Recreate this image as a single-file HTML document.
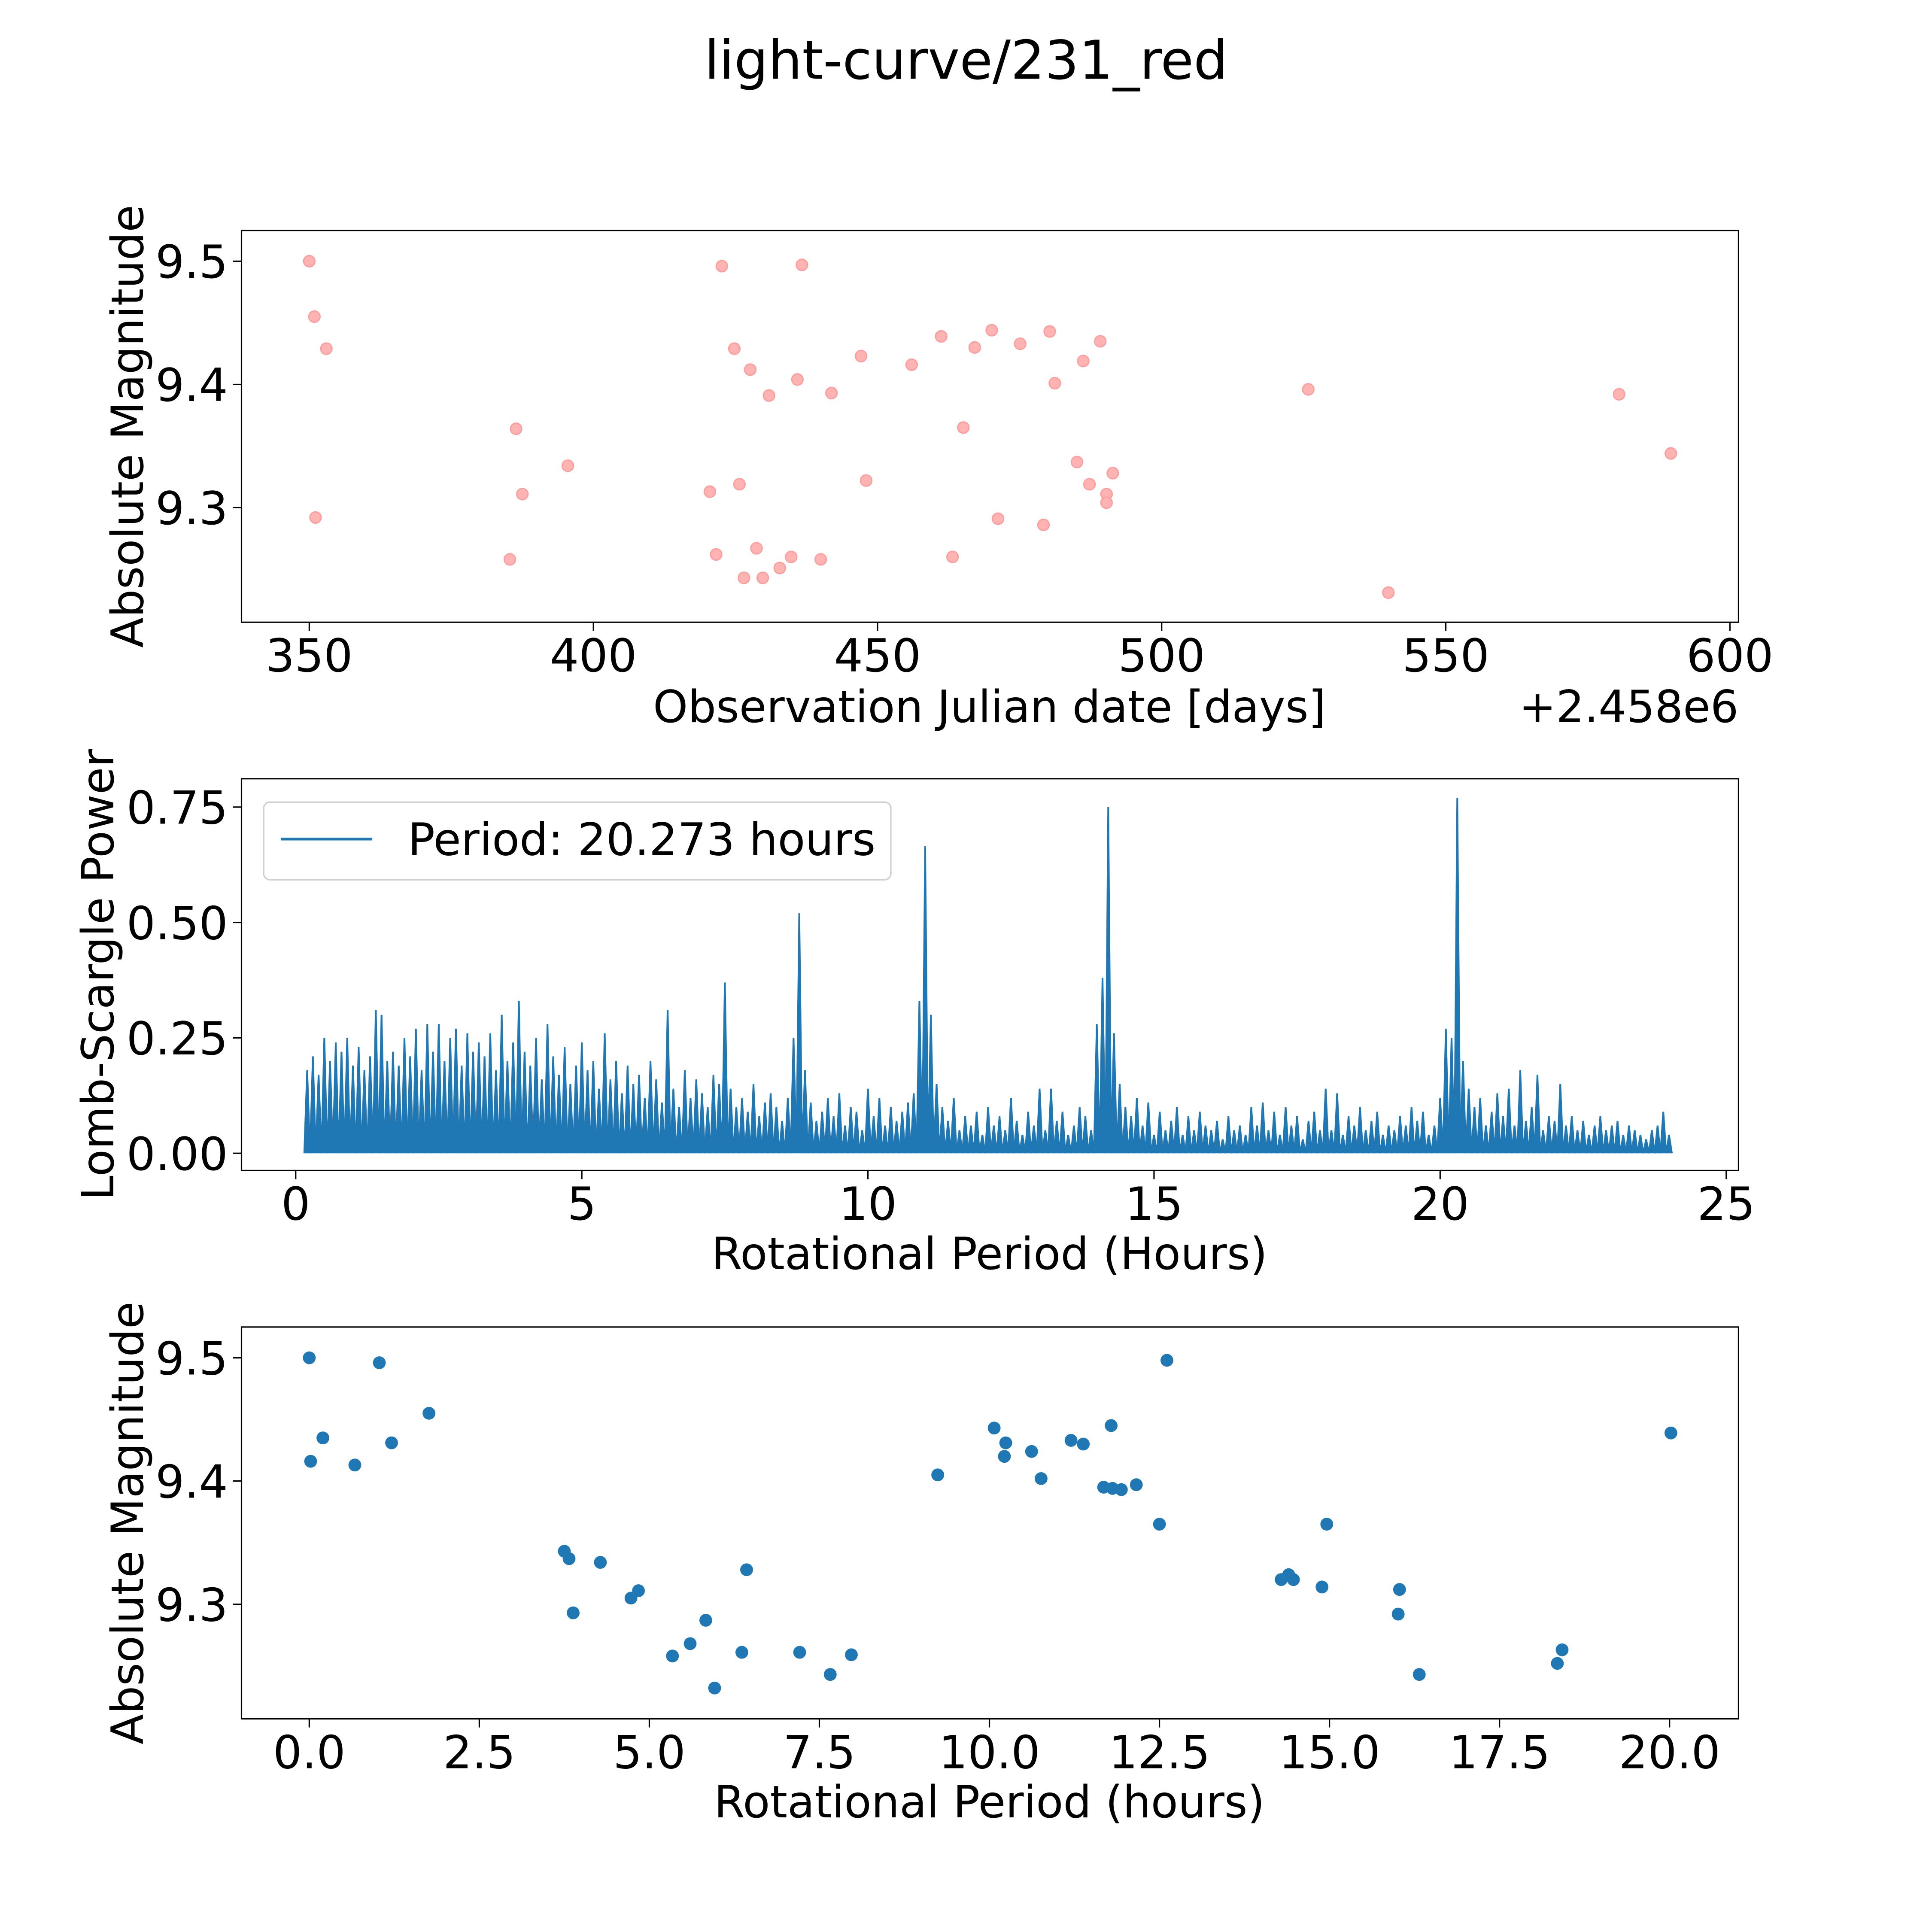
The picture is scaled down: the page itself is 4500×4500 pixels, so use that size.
<!DOCTYPE html>
<html><head><meta charset="utf-8"><style>
html,body{margin:0;padding:0;background:#fff;}
svg{display:block;font-family:"DejaVu Sans","Liberation Sans",sans-serif;}
</style></head><body>
<svg id="fig" width="4500" height="4500" viewBox="0 0 1568 1568" xmlns="http://www.w3.org/2000/svg">
<rect width="1568" height="1568" fill="#fff"/>
<text x="784" y="64" font-size="43.5" text-anchor="middle">light-curve/231_red</text>
<g id="p1"></g>
<g id="p2"></g>
<g id="p3"></g>
</svg>
<script>
// Panel 1 data
const obsDates=[350.0,350.9,353.0,351.1,385.3,386.4,387.5,395.5,420.5,421.6,422.6,424.8,425.7,426.5,427.6,428.7,429.8,430.9,432.8,434.8,435.9,436.7,440.0,441.9,447.1,448.0,456.0,461.2,463.2,465.1,467.1,470.1,471.2,475.1,479.2,480.3,481.2,485.1,486.2,487.3,489.2,490.3,490.3,491.4,525.8,539.9,580.5,589.6];
const obsMags=[9.500,9.455,9.429,9.292,9.258,9.364,9.311,9.334,9.313,9.262,9.496,9.429,9.319,9.243,9.412,9.267,9.243,9.391,9.251,9.260,9.404,9.497,9.258,9.393,9.423,9.322,9.416,9.439,9.260,9.365,9.430,9.444,9.291,9.433,9.286,9.443,9.401,9.337,9.419,9.319,9.435,9.311,9.304,9.328,9.396,9.231,9.392,9.344];
const p1XTicks=[350,400,450,500,550,600];
const p1YTicks=[9.3,9.4,9.5];
// Panel 2 data (periodogram sampled every 0.1 h from 0.2 h)
const lsStart=0.2, lsStep=0.1;
const lsPower=[0.18,0.21,0.17,0.25,0.20,0.24,0.22,0.25,0.19,
0.23,0.18,0.21,0.31,0.30,0.20,0.22,0.19,0.25,0.21,
0.27,0.18,0.28,0.22,0.28,0.20,0.25,0.27,0.19,0.26,
0.22,0.24,0.21,0.26,0.18,0.30,0.20,0.24,0.33,0.22,
0.19,0.25,0.16,0.28,0.21,0.17,0.23,0.15,0.19,0.24,
0.18,0.20,0.14,0.26,0.16,0.20,0.13,0.19,0.15,0.17,
0.12,0.20,0.16,0.11,0.31,0.14,0.10,0.18,0.12,0.16,
0.13,0.10,0.17,0.15,0.37,0.14,0.10,0.12,0.09,0.15,
0.08,0.11,0.13,0.10,0.07,0.12,0.25,0.52,0.18,0.11,
0.07,0.09,0.12,0.08,0.13,0.06,0.10,0.09,0.05,0.14,
0.08,0.12,0.06,0.10,0.07,0.09,0.11,0.13,0.33,0.665,
0.30,0.15,0.10,0.07,0.12,0.05,0.08,0.06,0.09,0.04,
0.10,0.06,0.08,0.05,0.12,0.07,0.04,0.09,0.06,0.14,
0.05,0.14,0.07,0.09,0.04,0.06,0.10,0.08,0.05,0.28,
0.38,0.75,0.26,0.15,0.10,0.08,0.12,0.06,0.11,0.04,
0.09,0.05,0.07,0.10,0.04,0.08,0.05,0.09,0.06,0.05,
0.07,0.03,0.08,0.05,0.06,0.04,0.10,0.06,0.11,0.05,
0.09,0.04,0.10,0.06,0.08,0.03,0.07,0.09,0.05,0.14,
0.05,0.13,0.04,0.08,0.06,0.10,0.05,0.07,0.09,0.04,
0.06,0.05,0.08,0.06,0.10,0.07,0.09,0.04,0.06,0.12,
0.27,0.25,0.77,0.20,0.14,0.10,0.12,0.06,0.09,0.13,
0.08,0.14,0.06,0.18,0.07,0.10,0.17,0.05,0.08,0.07,
0.15,0.06,0.08,0.05,0.07,0.04,0.06,0.08,0.05,0.06,
0.07,0.04,0.06,0.05,0.04,0.03,0.05,0.06,0.09,0.04];
const p2XTicks=[0,5,10,15,20,25];
const p2YTicks=[0,0.25,0.5,0.75];
const p2YLabels=["0.00","0.25","0.50","0.75"];
// Panel 3 data
const phasePeriods=[0.00,0.02,0.20,0.67,1.03,1.21,1.76,3.75,3.82,3.88,4.28,4.73,4.84,5.34,5.60,5.83,5.96,6.36,6.43,7.21,7.66,7.97,9.24,10.07,10.24,10.22,10.62,10.76,11.20,11.38,11.68,11.79,11.81,11.94,12.16,12.50,12.61,14.29,14.40,14.47,14.89,14.96,16.03,16.01,16.32,18.35,18.42,20.02];
const phaseMags=[9.500,9.416,9.435,9.413,9.496,9.431,9.455,9.343,9.337,9.293,9.334,9.305,9.311,9.258,9.268,9.287,9.232,9.261,9.328,9.261,9.243,9.259,9.405,9.443,9.431,9.420,9.424,9.402,9.433,9.430,9.395,9.445,9.394,9.393,9.397,9.365,9.498,9.320,9.324,9.320,9.314,9.365,9.312,9.292,9.243,9.252,9.263,9.439];
const p3XTicks=[0,2.5,5,7.5,10,12.5,15,17.5,20];
const p3YTicks=[9.3,9.4,9.5];

const NS="http://www.w3.org/2000/svg";
function mk(parent,tag,attrs){const e=document.createElementNS(NS,tag);for(const k in attrs)e.setAttribute(k,attrs[k]);parent.appendChild(e);return e;}
function lin(d0,d1,r0,r1){return v=>r0+(v-d0)/(d1-d0)*(r1-r0);}
const L=196,R=1411;
const TF=37, LF=36;

function frame(g,top,bot,sx,sy,xt,xl,yt,yl,tickBase){
  const box=mk(g,'rect',{x:L,y:top,width:R-L,height:bot-top,fill:'none',stroke:'#000','stroke-width':1.1});
  
  
  xt.forEach((t,i)=>{const x=sx(t);
    const tk=mk(g,'line',{x1:x,x2:x,y1:bot,y2:bot+7,stroke:'#000','stroke-width':1.1});
    
    
    const tx=mk(g,'text',{x:x,y:tickBase,'font-size':TF,'text-anchor':'middle'});tx.textContent=xl[i];
    
    
  });
  yt.forEach((t,i)=>{const y=sy(t);
    const tk=mk(g,'line',{x1:L-7,x2:L,y1:y,y2:y,stroke:'#000','stroke-width':1.1});
    
    
    const tx=mk(g,'text',{x:L-11,y:y+13.5,'font-size':TF,'text-anchor':'end'});tx.textContent=yl[i];
    
    
  });
}
function label(g,txt,x,y,rot,name,anchor){
  const t=mk(g,'text',{x:x,y:y,'font-size':LF,'text-anchor':anchor||'middle'});
  if(rot)t.setAttribute('transform','rotate(-90 '+x+' '+y+')');
  t.textContent=txt;
  
  
}

// Panel 1
(function(){
  const g=document.getElementById('p1');
  const sx=lin(350,600,251,1404), sy=lin(9.5,9.3,212,412);
  obsDates.forEach((d,i)=>{
    const c=mk(g,'circle',{cx:sx(d),cy:sy(obsMags[i]),r:4.6,fill:'#ffb3b3',stroke:'#ff9c9c','stroke-width':1});
    
    
  });
  frame(g,187,505,sx,sy,p1XTicks,p1XTicks.map(String),p1YTicks,p1YTicks.map(v=>v.toFixed(1)),545);
  label(g,'Observation Julian date [days]',803,586,false,'x-axis-title');
  label(g,'+2.458e6',1411,586,false,'x-axis-offset','end');
  label(g,'Absolute Magnitude',116,346,true,'y-axis-title');
})();

// Panel 2
(function(){
  const g=document.getElementById('p2');
  const sx=lin(0,25,240,1401), sy=lin(0,0.75,936,655);
  const half=lsStep/2;
  let d='M'+sx(lsStart-half)+' '+sy(0);
  lsPower.forEach((v,i)=>{const p=lsStart+i*lsStep;
    d+=' L'+sx(p)+' '+sy(v)+' L'+sx(p+half)+' '+sy(0);
  });
  const path=mk(g,'path',{d:d,fill:'#1f77b4',stroke:'#1f77b4','stroke-width':1.4,'stroke-linejoin':'miter'});
  
  
  frame(g,632,950,sx,sy,p2XTicks,p2XTicks.map(String),p2YTicks,p2YLabels,990);
  label(g,'Rotational Period (Hours)',803,1030,false,'x-axis-title');
  label(g,'Lomb-Scargle Power',92,791,true,'y-axis-title');
  const lg=mk(g,'g',{});
  
  
  mk(lg,'rect',{x:214,y:651,width:509,height:63,rx:5,fill:'#fff','fill-opacity':0.8,stroke:'#d0d0d0','stroke-width':1.2});
  const ll=mk(lg,'line',{x1:228,x2:302,y1:681,y2:681,stroke:'#1f77b4','stroke-width':2.2});
  
  
  const lt=mk(lg,'text',{x:331,y:694,'font-size':36.5});lt.textContent='Period: 20.273 hours';
  
  
})();

// Panel 3
(function(){
  const g=document.getElementById('p3');
  const sx=lin(0,20,251,1355), sy=lin(9.5,9.3,1102,1302);
  phasePeriods.forEach((p,i)=>{
    const c=mk(g,'circle',{cx:sx(p),cy:sy(phaseMags[i]),r:5.2,fill:'#1f77b4'});
    
    
  });
  frame(g,1077,1395,sx,sy,p3XTicks,p3XTicks.map(v=>v.toFixed(1)),p3YTicks,p3YTicks.map(v=>v.toFixed(1)),1435);
  label(g,'Rotational Period (hours)',803,1475,false,'x-axis-title');
  label(g,'Absolute Magnitude',116,1236,true,'y-axis-title');
})();
</script>
</body></html>
